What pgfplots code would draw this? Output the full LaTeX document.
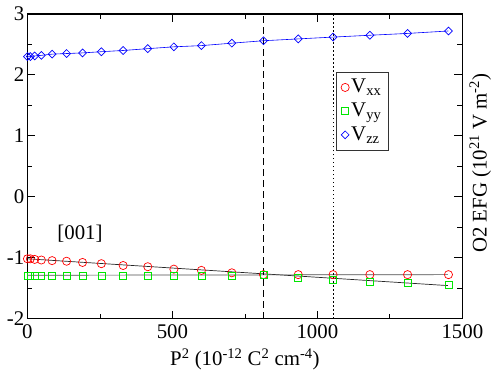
\documentclass[border=0pt]{standalone}
\usepackage{fontspec}
\setmainfont{Liberation Serif}
\usepackage{pgfplots}
\pgfplotsset{compat=1.18}
\definecolor{cred}{RGB}{255,0,0}
\definecolor{cgreen}{RGB}{0,230,0}
\definecolor{cblue}{RGB}{0,0,255}

\begin{document}
\fontsize{21}{25}\selectfont
\begin{tikzpicture}
\begin{axis}[
    scale only axis, width=437bp, height=306bp,
    xmin=0, xmax=1500, ymin=-2, ymax=3,
    xtick={0,500,1000,1500}, xticklabels={0,500,1000,1500},
    ytick={-2,-1,0,1,2,3}, yticklabels={-2,-1,0,1,2,3},
    minor x tick num=1, minor y tick num=1,
    tick align=inside, major tick length=8bp, minor tick length=5bp,
    axis line style={line width=1.2bp}, every tick/.style={black, line width=0.8bp},
    xlabel={P\textsuperscript{2} (10\textsuperscript{-12} C\textsuperscript{2} cm\textsuperscript{-4})},
    ylabel={O2 EFG (10\textsuperscript{21} V m\textsuperscript{-2})},
    ylabel style={at={(rel axis cs:1,0.5)}, anchor=north, rotate=0, xshift=3bp},
    xlabel style={yshift=4bp},
    yticklabel style={xshift=4bp},
    xticklabel style={yshift=1bp},
    legend style={at={(0.709,0.81)}, anchor=north west, draw=black!80, line width=0.6bp,
        row sep=3bp, inner xsep=5bp, inner ysep=5bp},
    legend cell align=left,
    legend image code/.code={\draw[#1] plot[only marks] coordinates {(0.2cm,0cm)};},
  ]
  % linear fits
  \addplot[black!85, line width=0.7bp, forget plot] coordinates {(0,-1.02) (1450,-1.46)};
  \addplot[black!70, line width=0.7bp, forget plot] coordinates {(0,-1.29) (1450,-1.28)};
  % transition lines
  \addplot[black, dash pattern=on 7bp off 4bp, line width=1bp, forget plot] coordinates {(814,-2) (814,3)};
  \addplot[black, dash pattern=on 1.5bp off 2.5bp, line width=1bp, forget plot] coordinates {(1054,-2) (1054,3)};

  \addplot[only marks, mark=o, mark size=4.1bp, color=cred, mark options={draw=cred, line width=0.7bp}] coordinates {
    (0,-1.02) (10,-1.02) (25,-1.03) (48,-1.04) (85,-1.05) (135,-1.06) (190,-1.08)
    (255,-1.10) (330,-1.13) (415,-1.15) (505,-1.19) (600,-1.21) (705,-1.25)
    (814,-1.28) (934,-1.28) (1054,-1.28) (1181,-1.28) (1311,-1.28) (1452,-1.28)};
  \addlegendentry{V\textsubscript{xx}}

  \addplot[only marks, mark=square, mark size=3.5bp, color=cgreen, mark options={draw=cgreen, line width=0.7bp}] coordinates {
    (0,-1.30) (10,-1.30) (25,-1.30) (48,-1.30) (85,-1.30) (135,-1.30) (190,-1.30)
    (255,-1.30) (330,-1.30) (415,-1.30) (505,-1.30) (600,-1.30) (705,-1.30)
    (814,-1.28) (934,-1.33) (1054,-1.36) (1181,-1.40) (1311,-1.42) (1452,-1.44)};
  \addlegendentry{V\textsubscript{yy}}

  \addplot[color=cblue, line width=0.6bp, mark=square, mark size=2.8bp, mark options={draw=cblue, rotate=45, line width=0.7bp}] coordinates {
    (0,2.30) (10,2.30) (25,2.31) (48,2.32) (85,2.34) (135,2.35) (190,2.36)
    (255,2.38) (330,2.40) (415,2.43) (505,2.46) (600,2.48) (705,2.52)
    (814,2.56) (934,2.59) (1054,2.62) (1181,2.65) (1311,2.68) (1452,2.72)};
  \addlegendentry{V\textsubscript{zz}}

  \node[anchor=west] at (axis cs:79,-0.61) {[001]};
\end{axis}
\end{tikzpicture}
\end{document}
